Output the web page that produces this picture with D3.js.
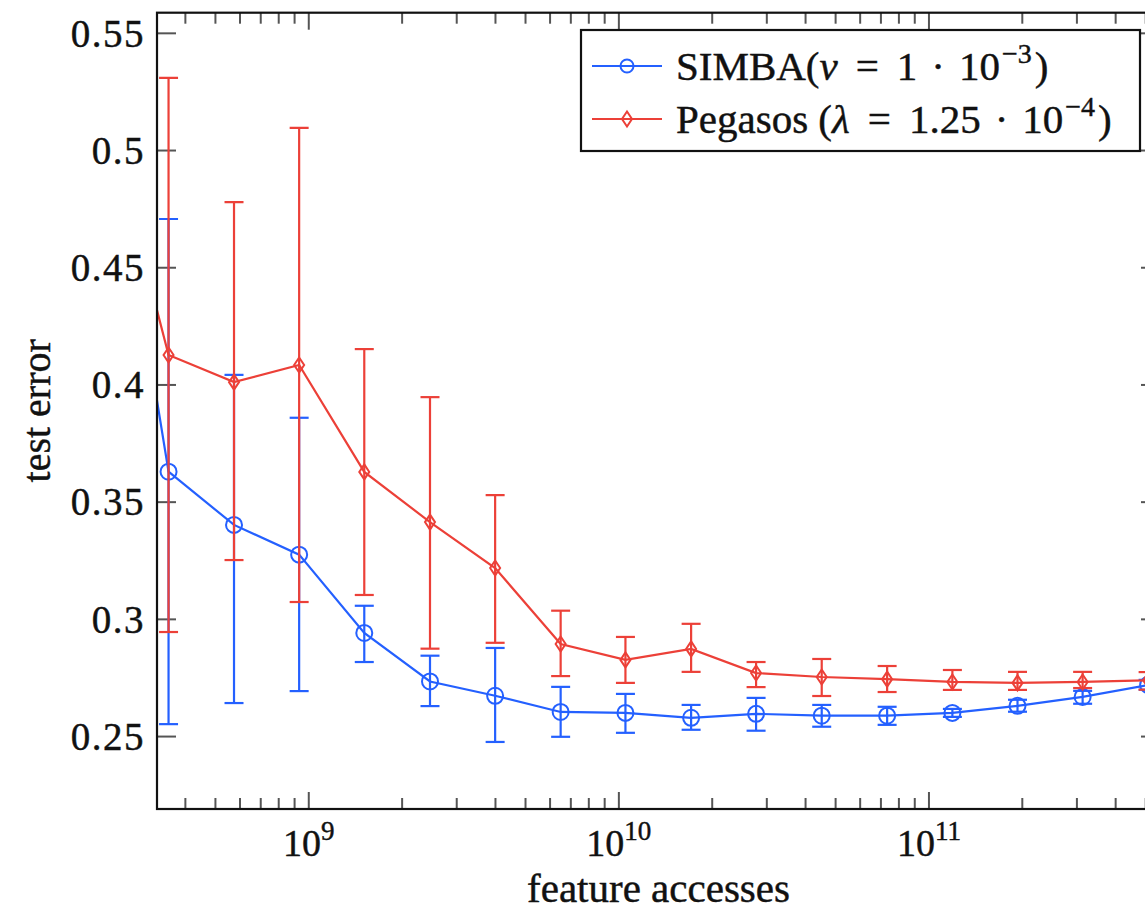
<!DOCTYPE html>
<html>
<head>
<meta charset="utf-8">
<script src="https://cdn.jsdelivr.net/npm/d3@7"></script>
<style>
  body { margin: 0; background: #fff; }
  text { font-family: 'Liberation Serif', 'Times New Roman', serif; fill: #111; stroke: #111; stroke-width: 0.45px; }
</style>
</head>
<body>
<script>
/* global d3 */

// feature accesses (first point lies left of the visible range)
const accesses = [2.17e8, 3.53e8, 5.74e8, 9.31e8, 1.51e9, 2.46e9, 3.99e9, 6.49e9,
  1.05e10, 1.71e10, 2.77e10, 4.51e10, 7.33e10, 1.19e11, 1.93e11, 3.13e11, 5.09e11];

const simbaMean = [0.535, 0.363, 0.3403, 0.3276, 0.2942, 0.2735, 0.2674, 0.2605,
  0.2601, 0.258, 0.2597, 0.2589, 0.2589, 0.2601, 0.2631, 0.2669, 0.272];
const simbaHigh = [0.6, 0.4708, 0.4043, 0.386, 0.3058, 0.2845, 0.2878, 0.2712,
  0.2682, 0.2635, 0.2665, 0.2635, 0.2627, 0.2618, 0.2657, 0.2695, 0.2742];
const simbaLow = [0.47, 0.2553, 0.2643, 0.2694, 0.2818, 0.263, 0.2477, 0.2499,
  0.2516, 0.2529, 0.2525, 0.2542, 0.255, 0.2584, 0.2606, 0.264, 0.270];

const pegasosMean = [0.521, 0.4128, 0.4012, 0.4085, 0.3629, 0.3415, 0.3219, 0.2895,
  0.2827, 0.2874, 0.2771, 0.2754, 0.2745, 0.2733, 0.2729, 0.2733, 0.274];
const pegasosHigh = [0.6, 0.531, 0.478, 0.5097, 0.4153, 0.3948, 0.353, 0.3037,
  0.2925, 0.2981, 0.2818, 0.2831, 0.2801, 0.2784, 0.2776, 0.2776, 0.2775];
const pegasosLow = [0.45, 0.2946, 0.3253, 0.3074, 0.3104, 0.2875, 0.29, 0.2758,
  0.2729, 0.2776, 0.2711, 0.2673, 0.269, 0.2699, 0.2699, 0.2707, 0.270];

const yTicks = [0.25, 0.3, 0.35, 0.4, 0.45, 0.5, 0.55];
const yTickLabels = ['0.25', '0.3', '0.35', '0.4', '0.45', '0.5', '0.55'];
const xMajor = [1e9, 1e10, 1e11];
const xMajorExp = ['9', '10', '11'];

const xAxisLabel = 'feature accesses';
const yAxisLabel = 'test error';

const blue = '#2460ff';
const red = '#ec4038';

const width = 1145;
const height = 910;
const plot = { left: 157, right: 1160, top: 12.7, bottom: 809 };

function myGraph() {
  const xScale = d3.scaleLog()
    .domain([3.24e8, 5.56e11])
    .range([plot.left, plot.right]);

  const yScale = d3.scaleLinear()
    .domain([0.2191, 0.5588])
    .range([plot.bottom, plot.top]);

  const svg = d3.select('body')
    .append('svg')
    .attr('width', width)
    .attr('height', height);

  svg.append('clipPath')
    .attr('id', 'plotclip')
    .append('rect')
    .attr('x', plot.left)
    .attr('y', plot.top)
    .attr('width', plot.right - plot.left)
    .attr('height', plot.bottom - plot.top);

  // minor ticks on the log axis
  const minor = [];
  [1e8, 1e9, 1e10, 1e11].forEach((dec) => {
    for (let k = 2; k <= 9; k += 1) {
      const v = dec * k;
      if (v > xScale.domain()[0] && v < xScale.domain()[1]) minor.push(v);
    }
  });

  const ticks = svg.append('g')
    .attr('stroke', '#555')
    .attr('stroke-width', 2);

  // bottom + top x ticks
  [plot.bottom, plot.top].forEach((y0) => {
    const dir = y0 === plot.bottom ? -1 : 1;
    ticks.selectAll(null)
      .data(minor)
      .join('line')
      .attr('x1', (d) => xScale(d))
      .attr('x2', (d) => xScale(d))
      .attr('y1', y0)
      .attr('y2', y0 + dir * 11);
    ticks.selectAll(null)
      .data(xMajor)
      .join('line')
      .attr('x1', (d) => xScale(d))
      .attr('x2', (d) => xScale(d))
      .attr('y1', y0)
      .attr('y2', y0 + dir * 17);
  });

  // left + right y ticks
  [plot.left, plot.right].forEach((x0) => {
    const dir = x0 === plot.left ? 1 : -1;
    ticks.selectAll(null)
      .data(yTicks)
      .join('line')
      .attr('x1', x0)
      .attr('x2', x0 + dir * 19)
      .attr('y1', (d) => yScale(d))
      .attr('y2', (d) => yScale(d));
  });

  // y tick labels
  svg.append('g')
    .selectAll('text')
    .data(yTicks)
    .join('text')
    .attr('x', 145)
    .attr('y', (d) => yScale(d))
    .attr('dy', '0.34em')
    .attr('text-anchor', 'end')
    .style('font-size', '39px')
    .style('letter-spacing', '1.5px')
    .text((d, i) => yTickLabels[i]);

  // x tick labels 10^k
  const xl = svg.append('g')
    .selectAll('text')
    .data(xMajor)
    .join('text')
    .attr('x', (d) => xScale(d))
    .attr('y', 856)
    .attr('text-anchor', 'middle')
    .style('font-size', '38px');
  xl.append('tspan').text('10');
  xl.append('tspan')
    .attr('dy', -16)
    .style('font-size', '27px')
    .text((d, i) => xMajorExp[i]);

  svg.append('text')
    .attr('x', (plot.left + plot.right) / 2)
    .attr('y', 902)
    .attr('text-anchor', 'middle')
    .style('font-size', '41px')
    .text(xAxisLabel);

  svg.append('text')
    .attr('transform', `translate(50, ${(plot.top + plot.bottom) / 2}) rotate(-90)`)
    .attr('text-anchor', 'middle')
    .style('font-size', '40px')
    .text(yAxisLabel);

  const area = svg.append('g').attr('clip-path', 'url(#plotclip)');

  const series = [
    { mean: simbaMean, hi: simbaHigh, lo: simbaLow, color: blue, mark: 'circle' },
    { mean: pegasosMean, hi: pegasosHigh, lo: pegasosLow, color: red, mark: 'diamond' },
  ];

  const diamond = 'M0,-7.5 L5,0 L0,7.5 L-5,0 Z';

  series.forEach((s) => {
    const pts = accesses.map((a, i) => ({
      x: a, m: s.mean[i], hi: s.hi[i], lo: s.lo[i],
    }));
    const g = area.append('g');

    g.append('path')
      .datum(pts)
      .attr('fill', 'none')
      .attr('stroke', s.color)
      .attr('stroke-width', 2.2)
      .attr('d', d3.line().x((d) => xScale(d.x)).y((d) => yScale(d.m)));

    const eb = g.append('g')
      .attr('stroke', s.color)
      .attr('stroke-width', 2.2);
    eb.selectAll(null)
      .data(pts)
      .join('line')
      .attr('x1', (d) => xScale(d.x))
      .attr('x2', (d) => xScale(d.x))
      .attr('y1', (d) => yScale(d.hi))
      .attr('y2', (d) => yScale(d.lo));
    ['hi', 'lo'].forEach((k) => {
      eb.selectAll(null)
        .data(pts)
        .join('line')
        .attr('x1', (d) => xScale(d.x) - 9.5)
        .attr('x2', (d) => xScale(d.x) + 9.5)
        .attr('y1', (d) => yScale(d[k]))
        .attr('y2', (d) => yScale(d[k]));
    });

    if (s.mark === 'circle') {
      g.selectAll(null)
        .data(pts)
        .join('circle')
        .attr('cx', (d) => xScale(d.x))
        .attr('cy', (d) => yScale(d.m))
        .attr('r', 8)
        .attr('fill', 'none')
        .attr('stroke', s.color)
        .attr('stroke-width', 2);
    } else {
      g.selectAll(null)
        .data(pts)
        .join('path')
        .attr('transform', (d) => `translate(${xScale(d.x)}, ${yScale(d.m)})`)
        .attr('d', diamond)
        .attr('fill', 'none')
        .attr('stroke', s.color)
        .attr('stroke-width', 2);
    }
  });

  // frame
  svg.append('rect')
    .attr('x', plot.left)
    .attr('y', plot.top)
    .attr('width', plot.right - plot.left)
    .attr('height', plot.bottom - plot.top)
    .attr('fill', 'none')
    .attr('stroke', '#111')
    .attr('stroke-width', 2.2);

  // legend
  const lg = svg.append('g');
  lg.append('rect')
    .attr('x', 581)
    .attr('y', 30)
    .attr('width', 559)
    .attr('height', 121)
    .attr('fill', '#fff')
    .attr('stroke', '#111')
    .attr('stroke-width', 2.2);

  const rows = [
    { y: 66, color: blue, mark: 'circle', pre: 'SIMBA(', sym: 'ν', num: '1', exp: '−3' },
    { y: 119, color: red, mark: 'diamond', pre: 'Pegasos (', sym: 'λ', num: '1.25', exp: '−4' },
  ];
  rows.forEach((r) => {
    lg.append('line')
      .attr('x1', 592)
      .attr('x2', 662)
      .attr('y1', r.y)
      .attr('y2', r.y)
      .attr('stroke', r.color)
      .attr('stroke-width', 2.2);
    if (r.mark === 'circle') {
      lg.append('circle')
        .attr('cx', 627)
        .attr('cy', r.y)
        .attr('r', 6.5)
        .attr('fill', 'none')
        .attr('stroke', r.color)
        .attr('stroke-width', 2);
    } else {
      lg.append('path')
        .attr('transform', `translate(627, ${r.y})`)
        .attr('d', diamond)
        .attr('fill', 'none')
        .attr('stroke', r.color)
        .attr('stroke-width', 2);
    }
    const t = lg.append('text')
      .attr('x', 676)
      .attr('y', r.y + 14)
      .style('font-size', '41px');
    t.append('tspan').text(r.pre);
    t.append('tspan').style('font-style', 'italic').text(r.sym);
    t.append('tspan').attr('dx', 18).text('=');
    t.append('tspan').attr('dx', 18).text(r.num);
    t.append('tspan').attr('dx', 14).text('·');
    t.append('tspan').attr('dx', 14).text('10');
    t.append('tspan')
      .attr('dy', -17)
      .attr('dx', 2)
      .style('font-size', '28px')
      .text(r.exp);
    t.append('tspan')
      .attr('dy', 17)
      .attr('dx', 3)
      .text(')');
  });
}

myGraph();
</script>
</body>
</html>
